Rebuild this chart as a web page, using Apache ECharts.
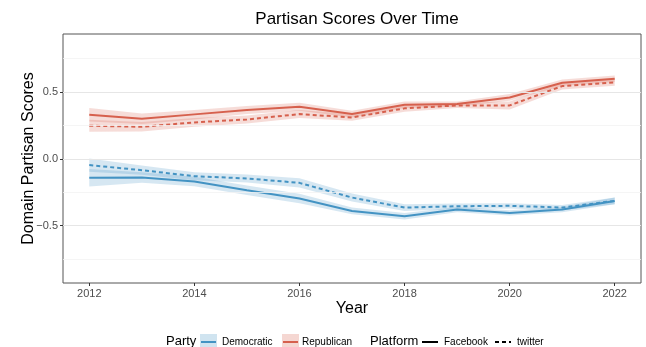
<!DOCTYPE html>
<html>
<head>
<meta charset="utf-8">
<script src="https://cdn.jsdelivr.net/npm/echarts@6/dist/echarts.min.js"></script>
<style>
  html, body { margin: 0; padding: 0; background: #fff; }
  #main { width: 646px; height: 347px; }
</style>
</head>
<body>
<div id="main"></div>
<script>
// data
var years = [2012, 2013, 2014, 2015, 2016, 2017, 2018, 2019, 2020, 2021, 2022];

var repFb     = [0.33, 0.30, 0.333, 0.365, 0.39, 0.335, 0.405, 0.41, 0.46, 0.57, 0.60];
var repFbLow  = [0.28, 0.26, 0.295, 0.335, 0.36, 0.31, 0.38, 0.39, 0.435, 0.545, 0.575];
var repFbHigh = [0.38, 0.34, 0.365, 0.395, 0.42, 0.36, 0.43, 0.43, 0.485, 0.595, 0.625];

var repTw     = [0.248, 0.24, 0.273, 0.295, 0.335, 0.31, 0.378, 0.40, 0.40, 0.545, 0.573];
var repTwLow  = [0.203, 0.205, 0.24, 0.265, 0.305, 0.285, 0.353, 0.38, 0.37, 0.52, 0.548];
var repTwHigh = [0.293, 0.275, 0.305, 0.325, 0.365, 0.335, 0.403, 0.42, 0.43, 0.57, 0.598];

var demFb     = [-0.142, -0.14, -0.17, -0.235, -0.297, -0.39, -0.43, -0.38, -0.405, -0.38, -0.315];
var demFbLow  = [-0.207, -0.18, -0.205, -0.27, -0.332, -0.415, -0.455, -0.40, -0.425, -0.40, -0.34];
var demFbHigh = [-0.077, -0.10, -0.135, -0.20, -0.262, -0.365, -0.405, -0.36, -0.385, -0.36, -0.29];

var demTw     = [-0.047, -0.085, -0.13, -0.147, -0.18, -0.29, -0.365, -0.355, -0.352, -0.365, -0.315];
var demTwLow  = [-0.097, -0.12, -0.16, -0.177, -0.215, -0.32, -0.39, -0.375, -0.372, -0.385, -0.34];
var demTwHigh = [0.003, -0.05, -0.10, -0.117, -0.145, -0.26, -0.34, -0.335, -0.332, -0.345, -0.29];

var yTicks = [-0.5, 0, 0.5];
var yGrid = [-0.75, -0.5, -0.25, 0, 0.25, 0.5, 0.75];
var xTicks = [2012, 2014, 2016, 2018, 2020, 2022];

var blue = '#4393C3';
var red = '#D6604D';
var font = 'Liberation Sans, Arial, sans-serif';

var myChart = echarts.init(document.getElementById('main'));

function pairs(vals) {
    return years.map(function (y, i) { return [y, vals[i]]; });
}

// ribbon drawn as one polygon through the axis scales
function band(name, low, high, color) {
    return {
        name: name,
        type: 'custom',
        silent: true,
        z: 1,
        data: years.map(function (y, i) { return [y, low[i], high[i]]; }),
        renderItem: function (params, api) {
            if (params.dataIndex !== 0) return;
            var pts = [];
            for (var i = 0; i < years.length; i++) pts.push(api.coord([years[i], high[i]]));
            for (var j = years.length - 1; j >= 0; j--) pts.push(api.coord([years[j], low[j]]));
            return {
                type: 'polygon',
                shape: { points: pts },
                style: { fill: color, opacity: 0.22 }
            };
        }
    };
}

function line(name, vals, color, dashed) {
    return {
        name: name,
        type: 'line',
        data: pairs(vals),
        symbol: 'none',
        z: 3,
        lineStyle: { color: color, width: 2, type: dashed ? [4, 3] : 'solid' }
    };
}

var gridLines = yGrid.map(function (v) {
    var major = v * 2 === Math.round(v * 2);
    return {
        yAxis: v,
        lineStyle: { color: major ? '#e6e6e6' : '#f2f2f2', width: major ? 1 : 0.8, type: 'solid' }
    };
});

var option = {
    animation: false,
    title: {
        text: 'Partisan Scores Over Time',
        left: 352,
        top: 6,
        textAlign: 'center',
        textStyle: { fontFamily: font, fontSize: 17, fontWeight: 'normal', color: '#000' }
    },
    grid: {
        left: 63, right: 5, top: 34, bottom: 64,
        show: true, borderColor: '#555', borderWidth: 1, backgroundColor: '#fff'
    },
    xAxis: {
        type: 'value',
        min: 2011.5,
        max: 2022.5,
        name: 'Year',
        nameLocation: 'middle',
        nameGap: 18,
        nameMoveOverlap: false,
        nameTextStyle: { fontFamily: font, fontSize: 16, color: '#000' },
        axisLine: { show: false, onZero: false },
        axisTick: { show: true, inside: false, length: 3, lineStyle: { color: '#333' }, customValues: xTicks },
        axisLabel: {
            customValues: xTicks,
            fontFamily: font, fontSize: 11, color: '#4d4d4d', margin: 5,
            formatter: function (v) { return String(v); }
        },
        splitLine: { show: false }
    },
    yAxis: {
        type: 'value',
        min: -0.93,
        max: 0.935,
        name: 'Domain Partisan Scores',
        nameLocation: 'middle',
        nameGap: 26,
        nameMoveOverlap: false,
        nameTextStyle: { fontFamily: font, fontSize: 16, color: '#000' },
        axisLine: { show: false, onZero: false },
        axisTick: { show: true, inside: false, length: 3, lineStyle: { color: '#333' }, customValues: yTicks },
        axisLabel: {
            customValues: yTicks,
            fontFamily: font, fontSize: 11, color: '#4d4d4d', margin: 5,
            formatter: function (v) { return v.toFixed(1).replace('-', '\u2212'); }
        },
        splitLine: { show: false }
    },
    series: [
        {
            type: 'line', data: [], silent: true, z: 0,
            markLine: { silent: true, symbol: 'none', label: { show: false }, data: gridLines, animation: false }
        },
        band('Republican Facebook band', repFbLow, repFbHigh, red),
        band('Republican twitter band', repTwLow, repTwHigh, red),
        band('Democratic Facebook band', demFbLow, demFbHigh, blue),
        band('Democratic twitter band', demTwLow, demTwHigh, blue),
        line('Republican Facebook', repFb, red, false),
        line('Republican twitter', repTw, red, true),
        line('Democratic Facebook', demFb, blue, false),
        line('Democratic twitter', demTw, blue, true)
    ],
    graphic: [
        { type: 'text', left: 166, top: 335, style: { text: 'Party', font: '13px ' + font, fill: '#000' } },
        { type: 'rect', shape: { x: 200, y: 334, width: 17, height: 17 }, style: { fill: blue, opacity: 0.25 } },
        { type: 'line', shape: { x1: 201, y1: 342, x2: 216, y2: 342 }, style: { stroke: blue, lineWidth: 2 } },
        { type: 'text', left: 222, top: 337, style: { text: 'Democratic', font: '10px ' + font, fill: '#000' } },
        { type: 'rect', shape: { x: 282, y: 334, width: 17, height: 17 }, style: { fill: red, opacity: 0.25 } },
        { type: 'line', shape: { x1: 283, y1: 342, x2: 298, y2: 342 }, style: { stroke: red, lineWidth: 2 } },
        { type: 'text', left: 302, top: 337, style: { text: 'Republican', font: '10px ' + font, fill: '#000' } },
        { type: 'text', left: 370, top: 335, style: { text: 'Platform', font: '13px ' + font, fill: '#000' } },
        { type: 'line', shape: { x1: 422, y1: 342, x2: 438, y2: 342 }, style: { stroke: '#000', lineWidth: 2 } },
        { type: 'text', left: 444, top: 337, style: { text: 'Facebook', font: '10px ' + font, fill: '#000' } },
        { type: 'line', shape: { x1: 495, y1: 342, x2: 511, y2: 342 }, style: { stroke: '#000', lineWidth: 2, lineDash: [4, 3] } },
        { type: 'text', left: 517, top: 337, style: { text: 'twitter', font: '10px ' + font, fill: '#000' } }
    ]
};

myChart.setOption(option);
</script>
</body>
</html>
